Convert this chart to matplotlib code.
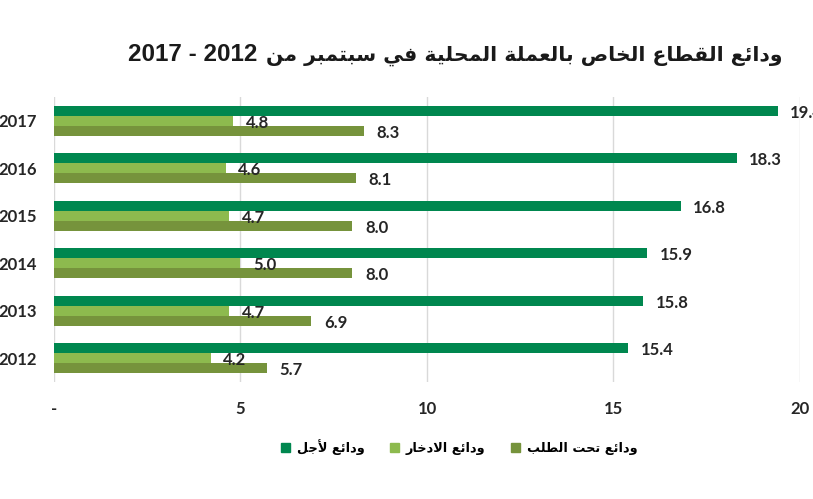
import re
import matplotlib
matplotlib.use("Agg")
import matplotlib.pyplot as plt
from matplotlib.patches import Patch

# ---------------- data ----------------
years = ["2012", "2013", "2014", "2015", "2016", "2017"]
time_deposits = [15.4, 15.8, 15.9, 16.8, 18.3, 19.4]      # ودائع لأجل
savings_deposits = [4.2, 4.7, 5.0, 4.7, 4.6, 4.8]         # ودائع الادخار
demand_deposits = [5.7, 6.9, 8.0, 8.0, 8.1, 8.3]          # ودائع تحت الطلب
xticks = [0, 5, 10, 15, 20]
xtick_labels = ["-", "5", "10", "15", "20"]

title_ar = "ودائع القطاع الخاص بالعملة المحلية في سبتمبر من"
title_years = "2012 - 2017"
label_time = "ودائع لأجل"
label_savings = "ودائع الادخار"
label_demand = "ودائع تحت الطلب"

# ------------- minimal Arabic shaping (matplotlib has no complex text layout) -------------
# forms: (isolated, final, initial, medial); None => does not join to the left
FORMS = {
    "ا": ("\uFE8D", "\uFE8E", None, None),
    "أ": ("\uFE83", "\uFE84", None, None),
    "ب": ("\uFE8F", "\uFE90", "\uFE91", "\uFE92"),
    "ة": ("\uFE93", "\uFE94", None, None),
    "ت": ("\uFE95", "\uFE96", "\uFE97", "\uFE98"),
    "ج": ("\uFE9D", "\uFE9E", "\uFE9F", "\uFEA0"),
    "ح": ("\uFEA1", "\uFEA2", "\uFEA3", "\uFEA4"),
    "خ": ("\uFEA5", "\uFEA6", "\uFEA7", "\uFEA8"),
    "د": ("\uFEA9", "\uFEAA", None, None),
    "ر": ("\uFEAD", "\uFEAE", None, None),
    "س": ("\uFEB1", "\uFEB2", "\uFEB3", "\uFEB4"),
    "ص": ("\uFEB9", "\uFEBA", "\uFEBB", "\uFEBC"),
    "ط": ("\uFEC1", "\uFEC2", "\uFEC3", "\uFEC4"),
    "ع": ("\uFEC9", "\uFECA", "\uFECB", "\uFECC"),
    "ف": ("\uFED1", "\uFED2", "\uFED3", "\uFED4"),
    "ق": ("\uFED5", "\uFED6", "\uFED7", "\uFED8"),
    "ل": ("\uFEDD", "\uFEDE", "\uFEDF", "\uFEE0"),
    "م": ("\uFEE1", "\uFEE2", "\uFEE3", "\uFEE4"),
    "ن": ("\uFEE5", "\uFEE6", "\uFEE7", "\uFEE8"),
    "و": ("\uFEED", "\uFEEE", None, None),
    "ي": ("\uFEF1", "\uFEF2", "\uFEF3", "\uFEF4"),
    "ئ": ("\uFE89", "\uFE8A", "\uFE8B", "\uFE8C"),
    # lam-alef ligatures (internal markers)
    "\u0001": ("\uFEFB", "\uFEFC", None, None),
    "\u0002": ("\uFEF7", "\uFEF8", None, None),
}


def shape_ar(text):
    t = text.replace("لا", "\u0001").replace("لأ", "\u0002")
    out = []
    n = len(t)
    for i, ch in enumerate(t):
        if ch not in FORMS:
            out.append(ch)
            continue
        prev = t[i - 1] if i > 0 else ""
        nxt = t[i + 1] if i + 1 < n else ""
        join_prev = prev in FORMS and FORMS[prev][2] is not None
        join_next = nxt in FORMS and FORMS[ch][2] is not None
        iso, fin, ini, med = FORMS[ch]
        if join_prev and join_next:
            out.append(med)
        elif join_prev:
            out.append(fin)
        elif join_next:
            out.append(ini)
        else:
            out.append(iso)
    vis = "".join(out)[::-1]
    vis = re.sub(r"[0-9.]+", lambda m: m.group()[::-1], vis)
    return vis


# ---------------- plot ----------------
plt.rcParams["font.family"] = ["Lato", "DejaVu Sans"]

c_time = "#00874F"
c_sav = "#8DBA4E"
c_dem = "#76933C"
txt = "#262626"

fig = plt.figure(figsize=(8.13, 4.99), dpi=100)
ax = fig.add_axes([0.0664, 0.2345, 0.9176, 0.5711])

y = list(range(len(years)))
h = 0.21
b1 = ax.barh([v + h for v in y], time_deposits, height=h, color=c_time, zorder=3)
b2 = ax.barh(y, savings_deposits, height=h, color=c_sav, zorder=3)
b3 = ax.barh([v - h for v in y], demand_deposits, height=h, color=c_dem, zorder=3)

for bars, vals in ((b1, time_deposits), (b2, savings_deposits), (b3, demand_deposits)):
    for rect, v in zip(bars, vals):
        ax.annotate(f"{v:.1f}", (rect.get_width(), rect.get_y() + rect.get_height() / 2),
                    xytext=(9, -1.5), textcoords="offset points", ha="left", va="center",
                    fontsize=12, fontweight="bold", color=txt, zorder=4,
                    annotation_clip=False)

ax.set_xlim(0, 20)
ax.set_ylim(-0.5, len(years) - 0.5)
ax.set_xticks(xticks)
ax.set_xticklabels(xtick_labels, fontsize=12, fontweight="bold", color=txt)
ax.set_yticks(y)
ax.set_yticklabels(years, fontsize=12, fontweight="bold", color=txt)
ax.tick_params(axis="both", length=0)
ax.tick_params(axis="y", pad=12)
ax.tick_params(axis="x", pad=14)
ax.xaxis.grid(True, color="#D9D9D9", linewidth=1, zorder=0)
ax.set_axisbelow(True)
for s in ax.spines.values():
    s.set_visible(False)

# title: Arabic part (right) and the years (left), on one baseline
fig.text(0.962, 0.878, shape_ar(title_ar), ha="right", va="baseline",
         fontsize=14.7, fontweight="bold", color="#1a1a1a", family=["DejaVu Sans"])
fig.text(0.1574, 0.878, shape_ar(title_years), ha="left", va="baseline",
         fontsize=17.5, fontweight="bold", color="#1a1a1a", family=["Liberation Sans"])

handles = [Patch(color=c_time), Patch(color=c_sav), Patch(color=c_dem)]
labels = [shape_ar(label_time), shape_ar(label_savings), shape_ar(label_demand)]
fig.legend(handles, labels, loc="center", bbox_to_anchor=(0.565, 0.105), ncol=3,
           frameon=False, handlelength=0.7, handleheight=0.7, handletextpad=0.5,
           columnspacing=2.0, prop={"family": ["DejaVu Sans"], "weight": "bold", "size": 9.3})

fig.savefig("out.png", dpi=100)
